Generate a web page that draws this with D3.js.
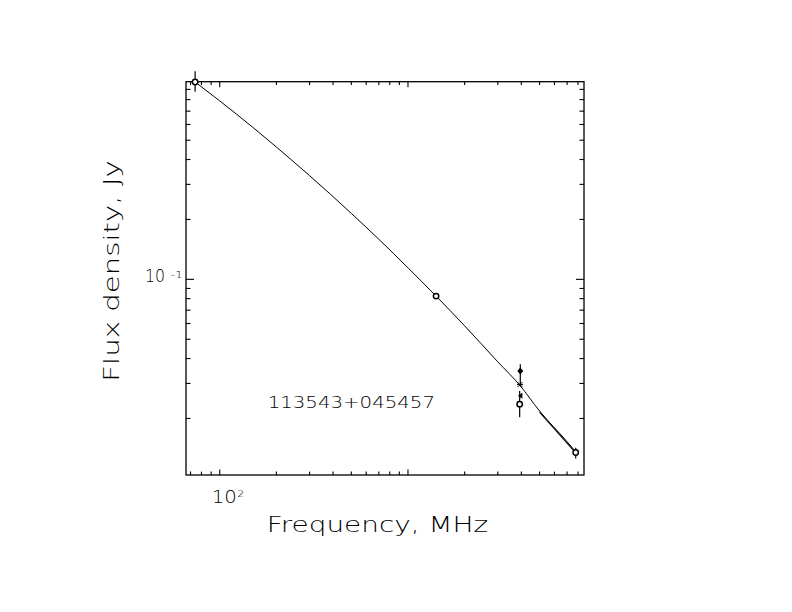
<!DOCTYPE html>
<html>
<head>
<meta charset="utf-8">
<script src="https://cdn.jsdelivr.net/npm/d3@7"></script>
<style>
  html, body { margin: 0; padding: 0; background: #fff; }
  svg { display: block; }
  text { font-family: 'DejaVu Sans', sans-serif; font-weight: 200; fill: #000; }
</style>
</head>
<body>
<svg id="chart" width="792" height="612"></svg>
<script>
// ---- data ----
const sourceName = "113543+045457";
const xLabel = "Frequency, MHz";
const yLabel = "Flux density, Jy";

// axis ranges (MHz, Jy)
const xDomain = [66.2, 8610];
const yDomain = [0.0104, 0.984];

// labelled major ticks
const xTickValues = [100];
const xTickBase = ["10"];
const xTickExp = ["2"];
const yTickValues = [0.1];
const yTickBase = ["10"];
const yTickExp = ["-1"];

// open circles
const circleFreq = [74, 1410, 3920, 7780];
const circleFlux = [0.98, 0.0824, 0.0236, 0.0135];
const circleErrLo = [0.875, 0.0824, 0.0203, 0.0126];
const circleErrHi = [1.11, 0.0824, 0.0275, 0.01426];

// filled dot
const dotFreq = [3950];
const dotFlux = [0.0346];
const dotErrLo = [0.0290];
const dotErrHi = [0.0375];

// filled triangle
const triFreq = [3955];
const triFlux = [0.026];

// cross
const crossFreq = [3935];
const crossFlux = [0.0296];

// fitted spectrum curve
const curveFreq = [74, 100, 150, 200, 300, 500, 700, 1000, 1410, 2000, 3000, 3935, 5000, 7000, 7780];
const curveFlux = [0.981, 0.788, 0.580, 0.462, 0.332, 0.2145, 0.159, 0.1143, 0.0824, 0.0584, 0.0385, 0.0293, 0.0218, 0.0153, 0.0136];

// short straight segment at the high-frequency end
const segFreq = [5000, 7780];
const segFlux = [0.0215, 0.01345];

// ---- drawing ----
const svg = d3.select("#chart");
const L = 186, R = 584, T = 81.7, B = 475;

const x = d3.scaleLog().domain(xDomain).range([L, R]);
const y = d3.scaleLog().domain(yDomain).range([B, T]);

const isMajor = v => Math.abs(Math.log10(v) - Math.round(Math.log10(v))) < 1e-9;

// frame
svg.append("rect")
  .attr("x", L).attr("y", T).attr("width", R - L).attr("height", B - T)
  .attr("fill", "none").attr("stroke", "#000").attr("stroke-width", 1.3);

const tickG = svg.append("g").attr("stroke", "#000").attr("stroke-width", 1.1);
const xt = x.ticks();
xt.forEach(v => {
  const len = isMajor(v) ? 5.5 : 3.4;
  const px = x(v);
  tickG.append("line").attr("x1", px).attr("x2", px).attr("y1", B).attr("y2", B - len);
  tickG.append("line").attr("x1", px).attr("x2", px).attr("y1", T).attr("y2", T + len);
});
const yt = y.ticks();
yt.forEach(v => {
  const len = isMajor(v) ? 8 : 4.5;
  const py = y(v);
  tickG.append("line").attr("y1", py).attr("y2", py).attr("x1", L).attr("x2", L + len);
  tickG.append("line").attr("y1", py).attr("y2", py).attr("x1", R).attr("x2", R - len);
});

// tick labels
xTickValues.forEach((v, i) => {
  const px = x(v);
  svg.append("text").attr("x", px - 8).attr("y", 503.3)
    .attr("font-size", 18).attr("textLength", 25).attr("lengthAdjust", "spacingAndGlyphs")
    .text(xTickBase[i]);
  svg.append("text").attr("x", px + 17.5).attr("y", 497)
    .attr("font-size", 9).attr("textLength", 7).attr("lengthAdjust", "spacingAndGlyphs")
    .text(xTickExp[i]);
});
yTickValues.forEach((v, i) => {
  const py = y(v);
  svg.append("text").attr("x", 145).attr("y", py + 2.6)
    .attr("font-size", 17.5).attr("textLength", 20).attr("lengthAdjust", "spacingAndGlyphs")
    .text(yTickBase[i]);
  svg.append("text").attr("x", 170.5).attr("y", py - 1.5)
    .attr("font-size", 8.5).attr("textLength", 12.5).attr("lengthAdjust", "spacingAndGlyphs")
    .text(yTickExp[i]);
});

// axis titles
svg.append("text").attr("x", 266.7).attr("y", 531.5)
  .attr("font-size", 22).attr("textLength", 221.5).attr("lengthAdjust", "spacingAndGlyphs")
  .text(xLabel);
svg.append("text")
  .attr("transform", "translate(119,381.7) rotate(-90)")
  .attr("font-size", 22).attr("textLength", 221.5).attr("lengthAdjust", "spacingAndGlyphs")
  .text(yLabel);

// source name
svg.append("text").attr("x", 267.7).attr("y", 408.3)
  .attr("font-size", 15).attr("textLength", 167.3).attr("lengthAdjust", "spacingAndGlyphs")
  .text(sourceName);

// curve
const line = d3.line().x(d => x(d[0])).y(d => y(d[1])).curve(d3.curveMonotoneX);
svg.append("path").datum(d3.zip(curveFreq, curveFlux))
  .attr("d", line).attr("fill", "none").attr("stroke", "#000").attr("stroke-width", 1);
svg.append("path").datum(d3.zip(segFreq, segFlux))
  .attr("d", d3.line().x(d => x(d[0])).y(d => y(d[1])))
  .attr("fill", "none").attr("stroke", "#000").attr("stroke-width", 1.1);

// error bars
const eb = svg.append("g").attr("stroke", "#000").attr("stroke-width", 1.2);
circleFreq.forEach((f, i) => {
  eb.append("line").attr("x1", x(f)).attr("x2", x(f)).attr("y1", y(circleErrLo[i])).attr("y2", y(circleErrHi[i]));
});
dotFreq.forEach((f, i) => {
  eb.append("line").attr("x1", x(f)).attr("x2", x(f)).attr("y1", y(dotErrLo[i])).attr("y2", y(dotErrHi[i]));
});

// symbols
circleFreq.forEach((f, i) => {
  svg.append("circle").attr("cx", x(f)).attr("cy", y(circleFlux[i])).attr("r", 2.7)
    .attr("fill", "#fff").attr("stroke", "#000").attr("stroke-width", 1.5);
});
dotFreq.forEach((f, i) => {
  const cx = x(f), cy = y(dotFlux[i]);
  svg.append("path").attr("d", `M${cx},${cy - 3.5} L${cx + 3},${cy} L${cx},${cy + 3.5} L${cx - 3},${cy} Z`).attr("fill", "#000");
});
triFreq.forEach((f, i) => {
  const cx = x(f), cy = y(triFlux[i]);
  svg.append("path").attr("d", `M${cx - 2.5},${cy} L${cx + 2},${cy - 3} L${cx + 2},${cy + 3} Z`).attr("fill", "#000");
});
crossFreq.forEach((f, i) => {
  const cx = x(f), cy = y(crossFlux[i]);
  const s = 2.5;
  svg.append("path").attr("d", `M${cx - s},${cy - s} L${cx + s},${cy + s} M${cx - s},${cy + s} L${cx + s},${cy - s} M${cx - 3},${cy} L${cx + 3},${cy}`)
    .attr("stroke", "#000").attr("stroke-width", 1).attr("fill", "none");
});
</script>
</body>
</html>
